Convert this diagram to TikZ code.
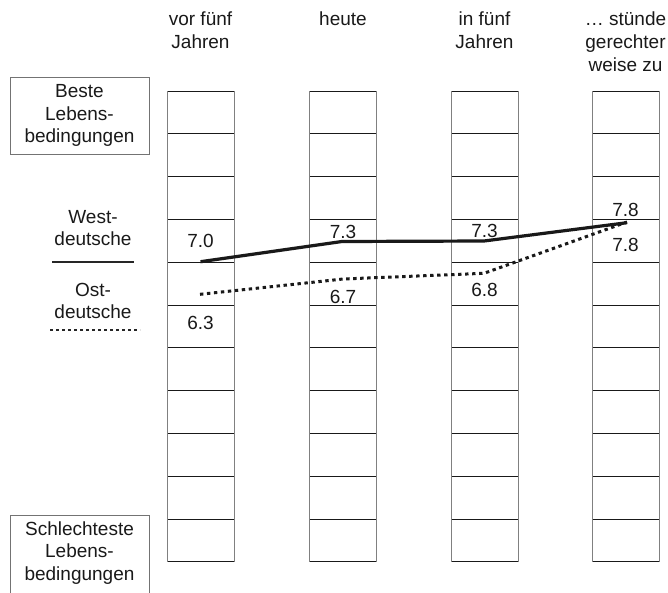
\documentclass[tikz,border=0pt]{standalone}
\usepackage{fontspec}
\setmainfont{Liberation Sans}
\begin{document}
\begin{tikzpicture}[x=1pt,y=-1pt,
    every node/.style={font=\fontsize{19}{22.8}\selectfont,text=black!90,inner sep=0pt,align=center},
    labelbox/.style={draw=black!55,line width=0.8pt},
    westline/.style={line width=3.2pt,black!90},
    ostline/.style={line width=3pt,black!90,dash pattern=on 3.4pt off 3.6pt}]
            \useasboundingbox (0,0) rectangle (668,592);
            \clip (0,0) rectangle (668,592);
            % the four columns of eleven cells
            \foreach \x in {167,309.5,451,592} {
                \foreach \k in {0,...,11}
                    \draw[black!90,line width=0.9pt] (\x,91+\k*42.8) -- (\x+67,91+\k*42.8);
                \draw[black!50,line width=0.9pt] (\x,91) -- (\x,561.8);
                \draw[black!50,line width=0.9pt] (\x+67,91) -- (\x+67,561.8);
            }
            % headings
            \node[anchor=north] (head1) at (200.5,12) {vor fünf\\Jahren};
            \node[anchor=north] (head2) at (343,12) {heute};
            \node[anchor=north] (head3) at (484.5,12) {in fünf\\Jahren};
            \node[anchor=north] (head4) at (625.5,12) {… stünde\\gerechter\\weise zu};
            % ends of the scale
            \draw[labelbox] (10,77) rectangle (149,154);
            \node (best) at (79.5,115.5) {Beste\\Lebens-\\bedingungen};
            \draw[labelbox] (10,515) rectangle (149,600);
            \node (worst) at (79.5,553) {Schlechteste\\Lebens-\\bedingungen};
            % legend
            \node (west) at (93,228) {West-\\deutsche};
            \draw[line width=1.8pt,black!85] (52,261.7) -- (134,261.7);
            \node (ost) at (93,301) {Ost-\\deutsche};
            \draw[line width=2pt,black!85,dash pattern=on 3pt off 3pt] (50,330) -- (140,330);
            % values
            \node (v1w) at (200.5,241) {7.0};
            \node (v1o) at (200.5,323) {6.3};
            \node (v2w) at (343,232) {7.3};
            \node (v2o) at (343,297) {6.7};
            \node (v3w) at (484.5,231) {7.3};
            \node (v3o) at (484.5,290) {6.8};
            \node (v4w) at (625.5,210) {7.8};
            \node (v4o) at (625.5,245) {7.8};
            \coordinate (w1) at (200.5,261.7);
            \coordinate (w2) at (342,241.5);
            \coordinate (w3) at (484,241);
            \coordinate (w4) at (627,222.7);
            \coordinate (o1) at (200,294.3);
            \coordinate (o2) at (343,279);
            \coordinate (o3) at (484,273.3);
            \coordinate (o4) at (627,222);
            \draw[westline] (w1) -- (w2) -- (w3) -- (w4);
            \draw[ostline] (o1) -- (o2) -- (o3) -- (o4);
        \end{tikzpicture}
\end{document}
